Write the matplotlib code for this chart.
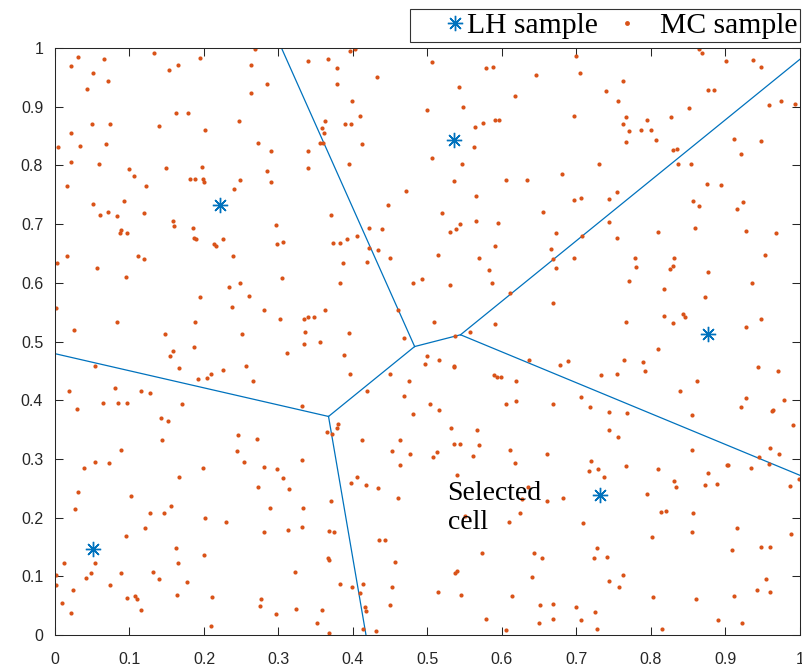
import numpy as np
import matplotlib
matplotlib.use("Agg")
import matplotlib.pyplot as plt
from matplotlib.lines import Line2D
from matplotlib.legend_handler import HandlerLine2D

# Latin hypercube samples (Voronoi sites)
lh_x = [0.051, 0.222, 0.535, 0.876, 0.732]
lh_y = [0.146, 0.733, 0.843, 0.512, 0.238]

# Monte Carlo samples
mc_x = [
    # top left
    0.031, 0.066, 0.133, 0.022, 0.195, 0.165, 0.153, 0.051, 0.071, 0.043, 0.162, 0.178, 0.049, 0.074, 0.139, 0.202, 0.247,
    0.021, 0.004, 0.034, 0.069, 0.022, 0.059, 0.099, 0.106, 0.149, 0.197, 0.181, 0.188, 0.199, 0.200, 0.016, 0.122,
    0.240, 0.248, 0.093, 0.051, 0.060, 0.071, 0.083, 0.119, 0.159, 0.160, 0.185, 0.088, 0.087, 0.097, 0.186, 0.189, 0.225,
    # top, second column
    0.268, 0.396, 0.403, 0.263, 0.339, 0.366, 0.379, 0.432, 0.285, 0.379, 0.263, 0.398, 0.410, 0.363, 0.358, 0.361,
    0.389, 0.397, 0.272, 0.356, 0.360, 0.412, 0.290, 0.339, 0.339, 0.394, 0.285, 0.290, 0.471, 0.447, 0.370, 0.296,
    0.422, 0.439, 0.406, 0.392,
    # top, third column
    0.506, 0.699, 0.578, 0.588, 0.646, 0.705, 0.542, 0.739, 0.617, 0.500, 0.548, 0.697, 0.590, 0.596, 0.574, 0.564,
    0.562, 0.506, 0.546, 0.730, 0.681, 0.535, 0.606, 0.633, 0.565, 0.697, 0.706, 0.744, 0.520, 0.655, 0.544, 0.538,
    0.530, 0.565, 0.595, 0.673, 0.707, 0.744,
    # top right
    0.864, 0.869, 0.901, 0.937, 0.947, 0.762, 0.877, 0.885, 0.756, 0.958, 0.974, 0.993, 0.851, 0.767, 0.795, 0.827,
    0.762, 0.771, 0.787, 0.800, 0.767, 0.807, 0.911, 0.948, 0.830, 0.835, 0.921, 0.836, 0.854, 0.875, 0.894, 0.754,
    0.857, 0.865, 0.924, 0.916, 0.809, 0.859, 0.927, 0.968, 0.754,
    # middle left
    0.214, 0.216, 0.003, 0.016, 0.111, 0.119, 0.239, 0.057, 0.095, 0.233, 0.248, 0.195, 0.001, 0.238, 0.083, 0.188,
    0.026, 0.147, 0.186, 0.158, 0.155, 0.054, 0.166, 0.225, 0.209, 0.204, 0.192, 0.019, 0.081, 0.115, 0.128, 0.064,
    0.085, 0.096, 0.030, 0.170, 0.142, 0.152, 0.144, 0.245,
    # middle, second column
    0.298, 0.306, 0.373, 0.382, 0.421, 0.433, 0.449, 0.387, 0.419, 0.305, 0.382, 0.481, 0.493, 0.261, 0.281, 0.302,
    0.334, 0.340, 0.347, 0.363, 0.460, 0.251, 0.336, 0.394, 0.334, 0.356, 0.468, 0.311, 0.388, 0.496, 0.256, 0.396,
    0.450, 0.266, 0.475, 0.419, 0.469, 0.332, 0.481, 0.380, 0.379, 0.365, 0.372, 0.271, 0.412, 0.463,
    # middle, third column
    0.514, 0.591, 0.569, 0.666, 0.669, 0.696, 0.672, 0.583, 0.530, 0.586, 0.611, 0.669, 0.509, 0.590, 0.557, 0.537,
    0.499, 0.515, 0.535, 0.536, 0.636, 0.678, 0.688, 0.733, 0.589, 0.593, 0.598, 0.619, 0.706, 0.504, 0.516, 0.606,
    0.619, 0.669, 0.718, 0.744, 0.531, 0.566, 0.744,
    # middle right
    0.779, 0.831, 0.780, 0.826, 0.830, 0.953, 0.877, 0.770, 0.935, 0.817, 0.873, 0.818, 0.843, 0.845, 0.830, 0.766,
    0.948, 0.928, 0.809, 0.764, 0.789, 0.792, 0.754, 0.943, 0.971, 0.862, 0.839, 0.927, 0.921, 0.962, 0.964, 0.978,
    0.768, 0.855, 0.990, 0.756,
    # bottom left
    0.089, 0.244, 0.054, 0.072, 0.039, 0.199, 0.166, 0.031, 0.102, 0.027, 0.156, 0.128, 0.146, 0.202, 0.230, 0.121,
    0.095, 0.162, 0.200, 0.012, 0.054, 0.165, 0.002, 0.048, 0.089, 0.132, 0.041, 0.140, 0.177, 0.001, 0.074, 0.024,
    0.164, 0.211, 0.096, 0.108, 0.110, 0.009, 0.115, 0.021, 0.210,
    # bottom, second column
    0.453, 0.476, 0.254, 0.332, 0.280, 0.298, 0.463, 0.306, 0.405, 0.397, 0.418, 0.272, 0.314, 0.434, 0.370, 0.461,
    0.288, 0.333, 0.281, 0.313, 0.331, 0.368, 0.374, 0.435, 0.443, 0.367, 0.368, 0.456, 0.322, 0.383, 0.398, 0.413,
    0.410, 0.453, 0.277, 0.275, 0.324, 0.359, 0.416, 0.418, 0.450, 0.297, 0.352, 0.368, 0.414, 0.431,
    # bottom, third column
    0.536, 0.543, 0.569, 0.513, 0.507, 0.561, 0.611, 0.661, 0.617, 0.720, 0.717, 0.729, 0.737, 0.540, 0.635, 0.627,
    0.660, 0.682, 0.550, 0.624, 0.610, 0.709, 0.573, 0.643, 0.654, 0.727, 0.723, 0.741, 0.537, 0.539, 0.640, 0.744,
    0.514, 0.545, 0.613, 0.651, 0.669, 0.700, 0.725, 0.579, 0.649, 0.668, 0.706, 0.727, 0.605,
    # bottom right
    0.855, 0.960, 0.972, 0.945, 0.766, 0.810, 0.902, 0.904, 0.934, 0.958, 0.876, 0.831, 0.834, 0.872, 0.889, 0.999,
    0.987, 0.795, 0.814, 0.820, 0.857, 0.855, 0.915, 0.988, 0.801, 0.909, 0.948, 0.960, 0.763, 0.757, 0.955, 0.942,
    0.960, 0.803, 0.860, 0.911, 0.890, 0.922, 0.815,
]
mc_y = [
    # top left
    0.985, 0.982, 0.991, 0.970, 0.983, 0.971, 0.963, 0.957, 0.943, 0.931, 0.889, 0.889, 0.871, 0.871, 0.867, 0.861, 0.875,
    0.855, 0.832, 0.833, 0.836, 0.805, 0.802, 0.794, 0.782, 0.796, 0.797, 0.777, 0.777, 0.777, 0.771, 0.765, 0.765,
    0.760, 0.775, 0.740, 0.735, 0.716, 0.720, 0.714, 0.719, 0.705, 0.697, 0.694, 0.690, 0.685, 0.684, 0.677, 0.674, 0.674,
    # top, second column
    0.998, 0.995, 0.999, 0.971, 0.978, 0.982, 0.966, 0.951, 0.939, 0.939, 0.923, 0.909, 0.884, 0.875, 0.864, 0.855,
    0.870, 0.870, 0.838, 0.838, 0.838, 0.836, 0.825, 0.824, 0.796, 0.803, 0.791, 0.771, 0.756, 0.732, 0.715, 0.698,
    0.693, 0.692, 0.679, 0.675,
    # top, third column
    0.977, 0.986, 0.966, 0.967, 0.954, 0.957, 0.934, 0.927, 0.918, 0.895, 0.899, 0.884, 0.877, 0.878, 0.872, 0.865,
    0.831, 0.812, 0.803, 0.802, 0.786, 0.774, 0.775, 0.775, 0.748, 0.741, 0.745, 0.742, 0.719, 0.721, 0.700, 0.691,
    0.687, 0.706, 0.702, 0.685, 0.680, 0.703,
    # top right
    0.998, 0.991, 0.978, 0.980, 0.967, 0.944, 0.929, 0.929, 0.909, 0.903, 0.909, 0.905, 0.897, 0.882, 0.878, 0.882,
    0.870, 0.858, 0.860, 0.860, 0.840, 0.843, 0.845, 0.842, 0.827, 0.828, 0.819, 0.802, 0.802, 0.768, 0.766, 0.755,
    0.739, 0.731, 0.737, 0.726, 0.687, 0.693, 0.689, 0.684, 0.676,
    # middle left
    0.666, 0.662, 0.634, 0.646, 0.646, 0.641, 0.646, 0.625, 0.610, 0.593, 0.600, 0.575, 0.557, 0.559, 0.533, 0.533,
    0.520, 0.512, 0.490, 0.484, 0.476, 0.459, 0.455, 0.451, 0.445, 0.437, 0.436, 0.416, 0.421, 0.415, 0.412, 0.396,
    0.396, 0.395, 0.385, 0.393, 0.369, 0.365, 0.332, 0.340,
    # middle, second column
    0.666, 0.670, 0.667, 0.667, 0.659, 0.656, 0.642, 0.633, 0.636, 0.609, 0.600, 0.600, 0.606, 0.577, 0.554, 0.538,
    0.539, 0.542, 0.542, 0.553, 0.553, 0.512, 0.516, 0.514, 0.495, 0.500, 0.506, 0.480, 0.477, 0.461, 0.459, 0.444,
    0.444, 0.433, 0.432, 0.415, 0.407, 0.390, 0.376, 0.359, 0.353, 0.345, 0.342, 0.334, 0.333, 0.333,
    # middle, third column
    0.648, 0.663, 0.643, 0.658, 0.640, 0.642, 0.625, 0.622, 0.596, 0.600, 0.583, 0.566, 0.533, 0.530, 0.517, 0.509,
    0.475, 0.469, 0.456, 0.458, 0.469, 0.460, 0.467, 0.443, 0.443, 0.440, 0.439, 0.433, 0.405, 0.394, 0.383, 0.394,
    0.399, 0.393, 0.388, 0.380, 0.352, 0.349, 0.350,
    # middle right
    0.643, 0.643, 0.627, 0.624, 0.628, 0.648, 0.618, 0.603, 0.599, 0.590, 0.575, 0.544, 0.547, 0.541, 0.532, 0.534,
    0.539, 0.524, 0.488, 0.468, 0.465, 0.450, 0.445, 0.457, 0.449, 0.433, 0.416, 0.404, 0.388, 0.382, 0.384, 0.401,
    0.379, 0.374, 0.358, 0.337,
    # bottom left
    0.315, 0.313, 0.294, 0.293, 0.285, 0.285, 0.269, 0.244, 0.237, 0.215, 0.220, 0.207, 0.208, 0.199, 0.193, 0.183,
    0.168, 0.149, 0.137, 0.123, 0.122, 0.122, 0.102, 0.105, 0.105, 0.108, 0.097, 0.095, 0.090, 0.086, 0.086, 0.077,
    0.068, 0.064, 0.063, 0.066, 0.061, 0.055, 0.043, 0.037, 0.015,
    # bottom, second column
    0.313, 0.309, 0.295, 0.298, 0.287, 0.282, 0.289, 0.267, 0.270, 0.259, 0.255, 0.252, 0.248, 0.250, 0.229, 0.234,
    0.216, 0.216, 0.175, 0.179, 0.184, 0.177, 0.175, 0.162, 0.161, 0.131, 0.127, 0.124, 0.107, 0.087, 0.081, 0.087,
    0.072, 0.081, 0.061, 0.049, 0.045, 0.043, 0.048, 0.041, 0.051, 0.036, 0.021, 0.004, 0.011, 0.007,
    # bottom, third column
    0.326, 0.326, 0.323, 0.312, 0.303, 0.305, 0.316, 0.309, 0.293, 0.296, 0.279, 0.282, 0.270, 0.273, 0.252, 0.232,
    0.229, 0.233, 0.203, 0.207, 0.192, 0.191, 0.140, 0.139, 0.132, 0.148, 0.131, 0.133, 0.106, 0.109, 0.098, 0.092,
    0.073, 0.068, 0.066, 0.051, 0.052, 0.048, 0.039, 0.027, 0.020, 0.027, 0.026, 0.010, 0.008,
    # bottom right
    0.315, 0.319, 0.308, 0.304, 0.288, 0.283, 0.290, 0.289, 0.285, 0.291, 0.276, 0.262, 0.252, 0.256, 0.258, 0.266,
    0.254, 0.240, 0.209, 0.212, 0.208, 0.176, 0.182, 0.172, 0.167, 0.144, 0.150, 0.150, 0.103, 0.081, 0.095, 0.076,
    0.073, 0.065, 0.062, 0.066, 0.026, 0.021, 0.011,
]

ticks = [0, 0.1, 0.2, 0.3, 0.4, 0.5, 0.6, 0.7, 0.8, 0.9, 1]

blue = "#0072BD"
orange = "#D95319"
axcol = "#262626"


def voronoi_edges(xs, ys, lo=0.0, hi=1.0):
    # edge between sites i and j = part of their bisector where both are nearest, clipped to the box
    pts = np.column_stack([xs, ys])
    edges = []
    n = len(pts)
    for i in range(n):
        for j in range(i + 1, n):
            p, q = pts[i], pts[j]
            m = (p + q) / 2
            d = np.array([-(q - p)[1], (q - p)[0]])
            tmin, tmax = -np.inf, np.inf
            cons = []
            for k in range(n):
                if k in (i, j):
                    continue
                s = pts[k]
                cons.append((2 * m @ (p - s) + s @ s - p @ p, 2 * d @ (p - s)))
            for c in range(2):
                cons.append((m[c] - lo, d[c]))
                cons.append((hi - m[c], -d[c]))
            ok = True
            for a, b in cons:
                if abs(b) < 1e-12:
                    if a < 0:
                        ok = False
                elif b > 0:
                    tmin = max(tmin, -a / b)
                else:
                    tmax = min(tmax, -a / b)
            if ok and tmin < tmax:
                edges.append((m + tmin * d, m + tmax * d))
    return edges


class OffsetMarker(HandlerLine2D):
    # put the legend marker at a fraction of the handle box, like MATLAB's icon area
    def __init__(self, frac, **kw):
        super().__init__(**kw)
        self.frac = frac

    def get_xdata(self, legend, xdescent, ydescent, width, height, fontsize):
        x = -xdescent + self.frac * width
        return np.array([x, x]), np.array([x, x])


fig = plt.figure(figsize=(8.03, 6.72), dpi=100)
ax = fig.add_axes([55 / 803, 37 / 672, 745 / 803, 587 / 672])

for a, b in voronoi_edges(lh_x, lh_y):
    ax.plot([a[0], b[0]], [a[1], b[1]], color=blue, lw=0.9, zorder=1)

ax.plot(mc_x, mc_y, "o", color=orange, ms=3.0, mew=0, zorder=2)
ax.plot(lh_x, lh_y, linestyle="none", marker=(8, 2, 0), color=blue, ms=11, mew=1.0, zorder=3)

ax.text(0.527, 0.180, "Selected\ncell", fontsize=20, family="Liberation Serif",
        va="baseline", ha="left", linespacing=1.22, zorder=4)

ax.set_xlim(0, 1)
ax.set_ylim(0, 1)
ax.set_xticks(ticks)
ax.set_yticks(ticks)
ax.set_xticklabels([f"{t:g}" for t in ticks])
ax.set_yticklabels([f"{t:g}" for t in ticks])
ax.tick_params(direction="in", length=5.5, width=0.75, top=True, right=True,
               colors=axcol, labelsize=11.5)
ax.tick_params(axis="x", pad=12)
ax.tick_params(axis="y", pad=8.5)
for lab in ax.get_xticklabels() + ax.get_yticklabels():
    lab.set_family("Liberation Sans")
for sp in ax.spines.values():
    sp.set_color(axcol)
    sp.set_linewidth(0.75)

h_lh = Line2D([], [], linestyle="none", marker=(8, 2, 0), color=blue, ms=11, mew=1.0, label="LH sample")
h_mc = Line2D([], [], linestyle="none", marker="o", color=orange, ms=3.5, mew=0, label="MC sample")
leg = ax.legend(handles=[h_lh, h_mc], ncol=2, loc="lower right", bbox_to_anchor=(1.0, 1.0102),
                borderaxespad=0, frameon=True, fancybox=False, edgecolor="black",
                prop={"family": "Liberation Serif", "size": 21.3}, handlelength=1.7,
                handletextpad=0.1, columnspacing=0.3, borderpad=0.1,
                handler_map={h_lh: OffsetMarker(0.82), h_mc: OffsetMarker(0.42)})
leg.get_frame().set_linewidth(0.8)

fig.savefig("out.png", dpi=100)
